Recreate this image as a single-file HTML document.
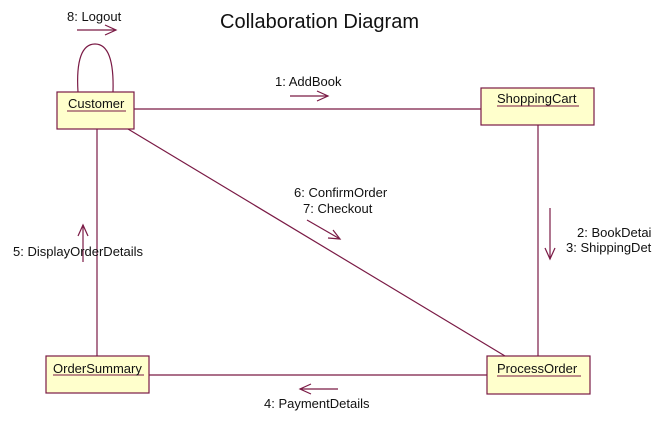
<!DOCTYPE html>
<html><head><style>
body{margin:0;background:#fff;}
svg text{font-family:"Liberation Sans",sans-serif;font-size:13px;fill:#111;}
</style></head><body>
<svg width="653" height="433" xmlns="http://www.w3.org/2000/svg">
<rect width="653" height="433" fill="#fff"/>
<text x="220" y="28" style="font-size:20px">Collaboration Diagram</text>
<g stroke="#7a1a45" stroke-width="1.2" fill="none">
<path d="M78 92 C76 60 82 44 95 44 C108 44 114 60 113 92"/>
<line x1="134" y1="109" x2="481" y2="109"/>
<line x1="97" y1="129" x2="97" y2="356"/>
<line x1="128" y1="129" x2="505" y2="356"/>
<line x1="538" y1="125" x2="538" y2="356"/>
<line x1="149" y1="375" x2="487" y2="375"/>
<line x1="77" y1="30" x2="116" y2="30"/><path d="M105 25 L116 30 L105 35"/>
<line x1="290" y1="96" x2="328" y2="96"/><path d="M317 91 L328 96 L317 101"/>
<line x1="307" y1="220" x2="340" y2="239"/><path d="M328 238 L340 239 L333 230"/>
<line x1="550" y1="208" x2="550" y2="259"/><path d="M545 248 L550 259 L555 248"/>
<line x1="83" y1="262" x2="83" y2="225"/><path d="M78 236 L83 225 L88 236"/>
<line x1="338" y1="389" x2="300" y2="389"/><path d="M311 384 L300 389 L311 394"/>
</g>
<g fill="#ffffcc" stroke="#7a1a45" stroke-width="1.2">
<rect x="57" y="92" width="77" height="37"/>
<rect x="481" y="88" width="113" height="37"/>
<rect x="487" y="356" width="103" height="38"/>
<rect x="46" y="356" width="103" height="37"/>
</g>
<g stroke="#7a1a45" stroke-width="1">
<line x1="67" y1="111" x2="126" y2="111"/>
<line x1="497" y1="106" x2="579" y2="106"/>
<line x1="497" y1="376" x2="581" y2="376"/>
<line x1="53" y1="375" x2="144" y2="375"/>
</g>
<text x="68" y="108">Customer</text>
<text x="497" y="103">ShoppingCart</text>
<text x="497" y="373">ProcessOrder</text>
<text x="53" y="373">OrderSummary</text>
<text x="67" y="21">8: Logout</text>
<text x="275" y="86">1: AddBook</text>
<text x="294" y="197">6: ConfirmOrder</text>
<text x="303" y="213">7: Checkout</text>
<text x="577" y="237">2: BookDetai</text>
<text x="566" y="252">3: ShippingDet</text>
<text x="13" y="256">5: DisplayOrderDetails</text>
<text x="264" y="408">4: PaymentDetails</text>
</svg>
</body></html>
